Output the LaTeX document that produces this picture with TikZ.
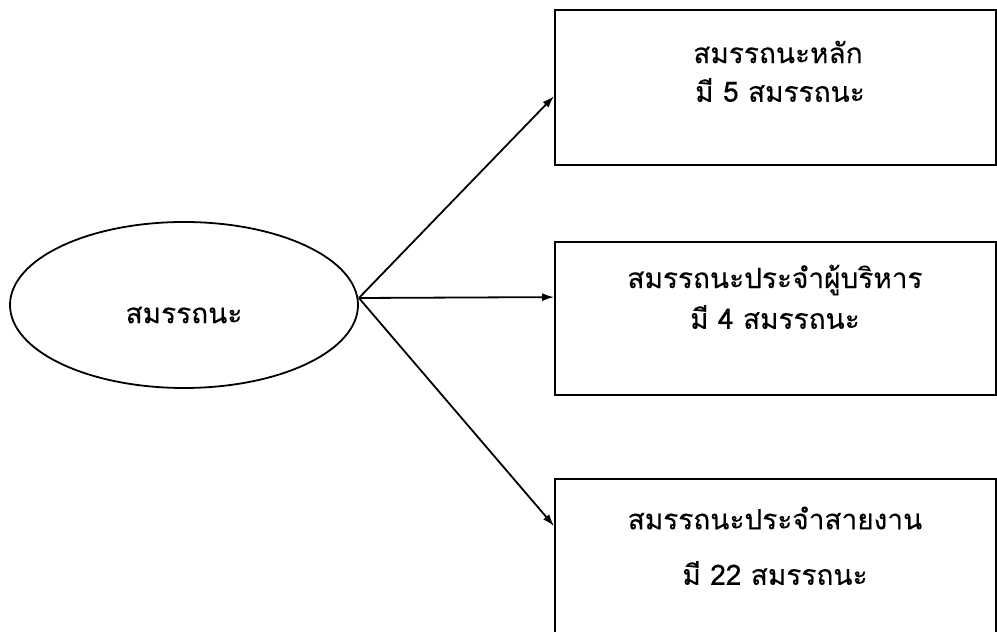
\documentclass[tikz,border=0pt]{standalone}
\usepackage{fontspec}
\newfontfamily\thaifont[Script=Thai,FakeBold=0.25]{Loma}
\usetikzlibrary{shapes.geometric,arrows.meta,positioning}

\tikzset{
  comp/.style={draw, ellipse, line width=1.8pt, minimum width=348pt, minimum height=166pt},
  compbox/.style={draw, line width=1.8pt, minimum width=441pt, inner sep=0pt},
  boxtext/.style={font=\thaifont\fontsize{28}{33}\selectfont, inner sep=0pt},
  arr/.style={-{Latex[length=12pt,width=8pt]}, line width=1.8pt}
}

\begin{document}
\begin{tikzpicture}[x=1pt,y=1pt]
  \useasboundingbox (0,0) rectangle (997,632);
  \clip (0,0) rectangle (997,632);

  % main ellipse
  \node[comp] (main) at (184,327) {};
  \node[boxtext] (maintxt) at (184,317) {สมรรถนะ};
  \coordinate (hub) at ([yshift=7pt]main.east);

  % the three groups
  \node[compbox, minimum height=155pt] (core) at (775.5,544.5) {};
  \node[compbox, minimum height=153pt] (exec) at (775.5,313.5) {};
  \node[compbox, minimum height=170pt] (func) at (775.5,68) {};

  \node[boxtext] (coreA) at (778,580) {สมรรถนะหลัก};
  \node[boxtext] (coreB) at (780,542) {มี 5 สมรรถนะ};
  \node[boxtext] (execA) at (775,352) {สมรรถนะประจำผู้บริหาร};
  \node[boxtext] (execB) at (775,315) {มี 4 สมรรถนะ};
  \node[boxtext] (funcA) at (775,114) {สมรรถนะประจำสายงาน};
  \node[boxtext] (funcB) at (775,59) {มี 22 สมรรถนะ};

  % connectors
  \draw[arr] (hub) -- ([yshift=-87pt]core.north west);
  \draw[arr] (hub) -- ([yshift=-56pt]exec.north west);
  \draw[arr] (hub) -- ([yshift=-48pt]func.north west);
\end{tikzpicture}
\end{document}
